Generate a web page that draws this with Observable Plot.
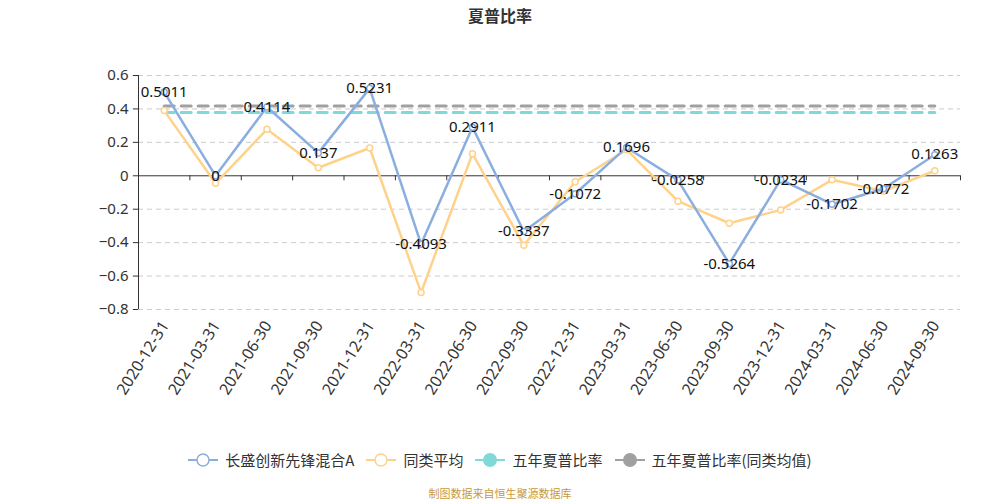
<!DOCTYPE html>
<html>
<head>
<meta charset="utf-8">
<script src="https://cdn.jsdelivr.net/npm/d3@7"></script>
<script src="https://cdn.jsdelivr.net/npm/@observablehq/plot@0.6"></script>
<style>
  body { margin: 0; background: #fff; font-family: "Noto Sans", "Noto Sans CJK SC", sans-serif; }
  #wrap { width: 1000px; height: 500px; position: relative; overflow: hidden; }
  #title { height: 30px; line-height: 30px; text-align: center; font-size: 16px; font-weight: bold; color: #333; font-family: "Noto Sans CJK SC", sans-serif; }
  #chart { height: 400px; }
  #legend { position: absolute; top: 449px; left: 0; width: 1000px; display: flex; justify-content: center; align-items: center; font-size: 15px; color: #333; font-family: "Noto Sans CJK SC", sans-serif; }
  .item { display: flex; align-items: center; margin: 0 6px; }
  .item svg { margin-right: 7px; }
  #caption { position: absolute; top: 485px; left: 0; width: 1000px; text-align: center; font-size: 11px; color: #c9993a; font-family: "Noto Sans CJK SC", sans-serif; }
</style>
</head>
<body>
<div id="wrap">
  <div id="title">夏普比率</div>
  <div id="chart"></div>
  <div id="legend"></div>
  <div id="caption">制图数据来自恒生聚源数据库</div>
</div>
<script>
const dates = ["2020-12-31","2021-03-31","2021-06-30","2021-09-30","2021-12-31","2022-03-31","2022-06-30","2022-09-30","2022-12-31","2023-03-31","2023-06-30","2023-09-30","2023-12-31","2024-03-31","2024-06-30","2024-09-30"];
const fundValues = [0.5011, 0, 0.4114, 0.137, 0.5231, -0.4093, 0.2911, -0.3337, -0.1072, 0.1696, -0.0258, -0.5264, -0.0234, -0.1702, -0.0772, 0.1263];
const peerValues = [0.39, -0.045, 0.278, 0.048, 0.166, -0.698, 0.132, -0.416, -0.036, 0.156, -0.152, -0.284, -0.204, -0.024, -0.092, 0.03];
const fiveYearFund = 0.378;
const fiveYearPeer = 0.418;
const yTicks = [-0.8, -0.6, -0.4, -0.2, 0, 0.2, 0.4, 0.6];
const seriesNames = ["长盛创新先锋混合A", "同类平均", "五年夏普比率", "五年夏普比率(同类均值)"];
const colors = ["#8aaee0", "#ffd28c", "#80d8d8", "#a0a0a0"];

const fund = dates.map((d, i) => ({i, d, v: fundValues[i]}));
const peer = dates.map((d, i) => ({i, d, v: peerValues[i]}));
const n = dates.length;
const bounds = d3.range(1, n + 1).map(k => k - 0.5);
const lastIdx = n - 1;
const refFund = [{i: 0, v: fiveYearFund}, {i: lastIdx, v: fiveYearFund}];
const refPeer = [{i: 0, v: fiveYearPeer}, {i: lastIdx, v: fiveYearPeer}];

const chart = Plot.plot({
  width: 1000,
  height: 400,
  marginLeft: 138,
  marginRight: 40,
  marginTop: 45,
  marginBottom: 121,
  style: {fontFamily: '"Noto Sans", "Noto Sans CJK SC", sans-serif', fontSize: "14px", color: "#333", background: "transparent"},
  x: {type: "linear", domain: [-0.5, n - 0.5], axis: null},
  y: {domain: [-0.8, 0.6], axis: null},
  marks: [
    Plot.ruleY(yTicks.filter(t => t !== 0), {x1: -0.5, x2: n - 0.5, stroke: "#ccc", strokeDasharray: "5,4", strokeWidth: 1}),
    Plot.ruleY([0], {x1: -0.5, x2: n - 0.5, stroke: "#333", strokeWidth: 1}),
    Plot.ruleX([-0.5], {y1: -0.8, y2: 0.6, stroke: "#333", strokeWidth: 1}),
    Plot.ruleY(yTicks, {x1: -0.6, x2: -0.5, stroke: "#333"}),
    Plot.text(yTicks, {x: -0.5, y: d => d, text: d => d3.format("")(d), textAnchor: "end", dx: -10, fill: "#333", fontSize: 15}),
    Plot.ruleX(bounds, {y1: 0, y2: -0.03, stroke: "#333"}),
    Plot.text(dates.map((d, i) => ({d, i})), {x: "i", y: -0.8, text: "d", rotate: -58, textAnchor: "end", dy: 13, dx: 1, fill: "#333", fontSize: 16}),
    Plot.line(refPeer, {x: "i", y: "v", stroke: colors[3], strokeWidth: 3, strokeDasharray: "10,7"}),
    Plot.line(refFund, {x: "i", y: "v", stroke: colors[2], strokeWidth: 3, strokeDasharray: "10,7"}),
    Plot.line(peer, {x: "i", y: "v", stroke: colors[1], strokeWidth: 2.5}),
    Plot.line(fund, {x: "i", y: "v", stroke: colors[0], strokeWidth: 2.5}),
    Plot.dot(peer, {x: "i", y: "v", r: 3, fill: "#fff", stroke: colors[1], strokeWidth: 1.5}),
    Plot.dot(fund, {x: "i", y: "v", r: 3, fill: "#fff", stroke: colors[0], strokeWidth: 1.5}),
    Plot.text(fund, {x: "i", y: "v", text: d => String(d.v), fill: "#111", fontSize: 15})
  ]
});
document.getElementById("chart").appendChild(chart);

const legend = document.getElementById("legend");
seriesNames.forEach((name, k) => {
  const item = document.createElement("div");
  item.className = "item";
  const hollow = k < 2;
  item.innerHTML = `<svg width="30" height="16"><line x1="0" x2="30" y1="8" y2="8" stroke="${colors[k]}" stroke-width="2"/><circle cx="15" cy="8" r="${hollow ? 6 : 7}" fill="${hollow ? '#fff' : colors[k]}" stroke="${colors[k]}" stroke-width="${hollow ? 1.5 : 0}"/></svg><span>${name}</span>`;
  legend.appendChild(item);
});
</script>
</body>
</html>
